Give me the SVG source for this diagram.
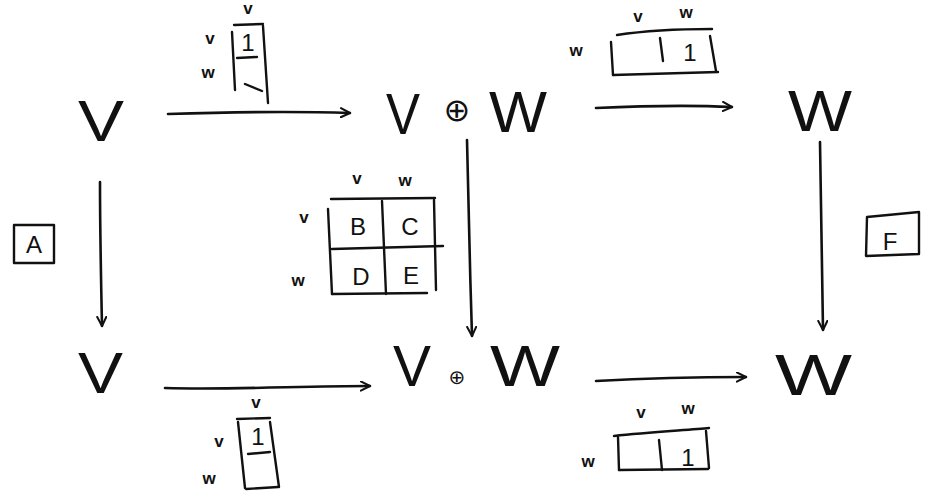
<svg xmlns="http://www.w3.org/2000/svg" width="933" height="497" viewBox="0 0 933 497">
  <style>
    .big { font-family: "Liberation Sans", Arial, sans-serif; font-size: 58px; fill: #111; text-anchor: start; }
    .op { font-family: "DejaVu Sans", sans-serif; fill: #111; text-anchor: middle; }
    .lbl { font-family: "Liberation Sans", Arial, sans-serif; font-size: 17px; font-weight: bold; fill: #111; text-anchor: middle; }
    .ent { font-family: "Liberation Sans", Arial, sans-serif; font-size: 24px; fill: #111; text-anchor: middle; }
    .ink { fill: none; stroke: #111; stroke-width: 2.6; stroke-linecap: round; stroke-linejoin: round; }
    .thin { fill: none; stroke: #111; stroke-width: 2.4; stroke-linecap: round; stroke-linejoin: round; }
  </style>
  <defs>
    <marker id="head" viewBox="0 0 12 12" refX="11" refY="6" markerWidth="11" markerHeight="11" markerUnits="userSpaceOnUse" orient="auto">
      <path d="M1,1 L11,6 L1,11" fill="none" stroke="#111" stroke-width="2.2" stroke-linecap="round" stroke-linejoin="round"/>
    </marker>
  </defs>
  <rect width="933" height="497" fill="#fff"/>

  <!-- objects -->
  <g id="v-top">
    <text class="big" x="78" y="141" font-size="58" textLength="46" lengthAdjust="spacingAndGlyphs">V</text>
  </g>
  <g id="vw-top">
    <text class="big" x="386" y="134" font-size="56" textLength="34" lengthAdjust="spacingAndGlyphs">V</text>
    <text class="op" x="457" y="121" font-size="32">⊕</text>
    <text class="big" x="489" y="132" font-size="75" textLength="58" lengthAdjust="spacingAndGlyphs">W</text>
  </g>
  <g id="w-top">
    <text class="big" x="788" y="131" font-size="76" textLength="64" lengthAdjust="spacingAndGlyphs">W</text>
  </g>
  <g id="v-bottom">
    <text class="big" x="78" y="393" font-size="65" textLength="45" lengthAdjust="spacingAndGlyphs">V</text>
  </g>
  <g id="vw-bottom">
    <text class="big" x="393" y="386" font-size="56" textLength="38" lengthAdjust="spacingAndGlyphs">V</text>
    <text class="op" x="457" y="384" font-size="20">⊕</text>
    <text class="big" x="490" y="386" font-size="56" textLength="70" lengthAdjust="spacingAndGlyphs">W</text>
  </g>
  <g id="w-bottom">
    <text class="big" x="775" y="395" font-size="70" textLength="77" lengthAdjust="spacingAndGlyphs">W</text>
  </g>

  <!-- arrows -->
  <g id="connectors">
    <path class="ink" d="M168,114 C230,112 290,111 350,113" marker-end="url(#head)"/>
    <path class="ink" d="M596,108 C640,106 690,105 732,107" marker-end="url(#head)"/>
    <path class="ink" d="M165,388 C230,390 300,386 370,386" marker-end="url(#head)"/>
    <path class="ink" d="M596,381 C650,378 700,377 746,377" marker-end="url(#head)"/>
    <path class="ink" d="M100,182 C100,230 101,280 102,326" marker-end="url(#head)"/>
    <path class="ink" d="M467,140 C468,200 470,270 472,336" marker-end="url(#head)"/>
    <path class="ink" d="M820,142 C821,200 822,270 823,330" marker-end="url(#head)"/>
  </g>

  <!-- inclusion V -> V+W, top -->
  <g id="m-top-left">
    <text class="lbl" x="248" y="14">v</text>
    <text class="lbl" x="210" y="44">v</text>
    <text class="lbl" x="208" y="78">w</text>
    <path class="thin" d="M234,25 L263,24"/>
    <path class="thin" d="M232,32 L235,90"/>
    <path class="thin" d="M263,26 L268,103"/>
    <path class="thin" d="M237,58 L257,57"/>
    <path class="thin" d="M245,84 L262,91"/>
    <text class="ent" x="248" y="51" font-size="18">1</text>
  </g>

  <!-- projection V+W -> W, top -->
  <g id="m-top-right">
    <text class="lbl" x="638" y="22">v</text>
    <text class="lbl" x="686" y="18">w</text>
    <text class="lbl" x="576" y="56">w</text>
    <path class="thin" d="M617,35 C650,30 690,29 712,29"/>
    <path class="thin" d="M611,42 L613,75"/>
    <path class="thin" d="M613,75 L718,72"/>
    <path class="thin" d="M710,36 L716,71"/>
    <path class="thin" d="M660,38 L663,61"/>
    <text class="ent" x="690" y="61">1</text>
  </g>

  <!-- block matrix in the middle -->
  <g id="m-middle">
    <text class="lbl" x="357" y="184">v</text>
    <text class="lbl" x="405" y="186">w</text>
    <text class="lbl" x="304" y="223">v</text>
    <text class="lbl" x="298" y="286">w</text>
    <path class="thin" d="M331,199 L435,198"/>
    <path class="thin" d="M328,209 L332,294"/>
    <path class="thin" d="M434,200 L436,290"/>
    <path class="thin" d="M382,201 L386,294"/>
    <path class="thin" d="M332,249 L443,246"/>
    <path class="thin" d="M332,294 L427,293"/>
    <text class="ent" x="358" y="235">B</text>
    <text class="ent" x="410" y="235">C</text>
    <text class="ent" x="361" y="285">D</text>
    <text class="ent" x="411" y="284">E</text>
  </g>

  <!-- A and F boxes -->
  <g id="box-a">
    <rect class="thin" x="14" y="225" width="40" height="38"/>
    <text class="ent" x="34" y="253" font-size="22">A</text>
  </g>
  <g id="box-f">
    <path class="thin" d="M867,217 L919,212 L919,254 L866,256 Z"/>
    <text class="ent" x="890" y="250" font-size="26">F</text>
  </g>

  <!-- inclusion V -> V+W, bottom -->
  <g id="m-bottom-left">
    <text class="lbl" x="256" y="408">v</text>
    <text class="lbl" x="219" y="447">v</text>
    <text class="lbl" x="209" y="484">w</text>
    <path class="thin" d="M237,419 L270,418"/>
    <path class="thin" d="M238,422 L245,488"/>
    <path class="thin" d="M270,422 L279,487"/>
    <path class="thin" d="M248,454 L270,452"/>
    <path class="thin" d="M246,489 L278,487"/>
    <text class="ent" x="258" y="445" font-size="18">1</text>
  </g>

  <!-- projection V+W -> W, bottom -->
  <g id="m-bottom-right">
    <text class="lbl" x="641" y="418">v</text>
    <text class="lbl" x="688" y="414">w</text>
    <text class="lbl" x="588" y="467">w</text>
    <path class="thin" d="M614,436 C650,432 690,430 709,428"/>
    <path class="thin" d="M618,437 L619,470"/>
    <path class="thin" d="M619,470 L708,469"/>
    <path class="thin" d="M706,431 L709,468"/>
    <path class="thin" d="M659,440 L662,470"/>
    <text class="ent" x="688" y="466">1</text>
  </g>
</svg>
